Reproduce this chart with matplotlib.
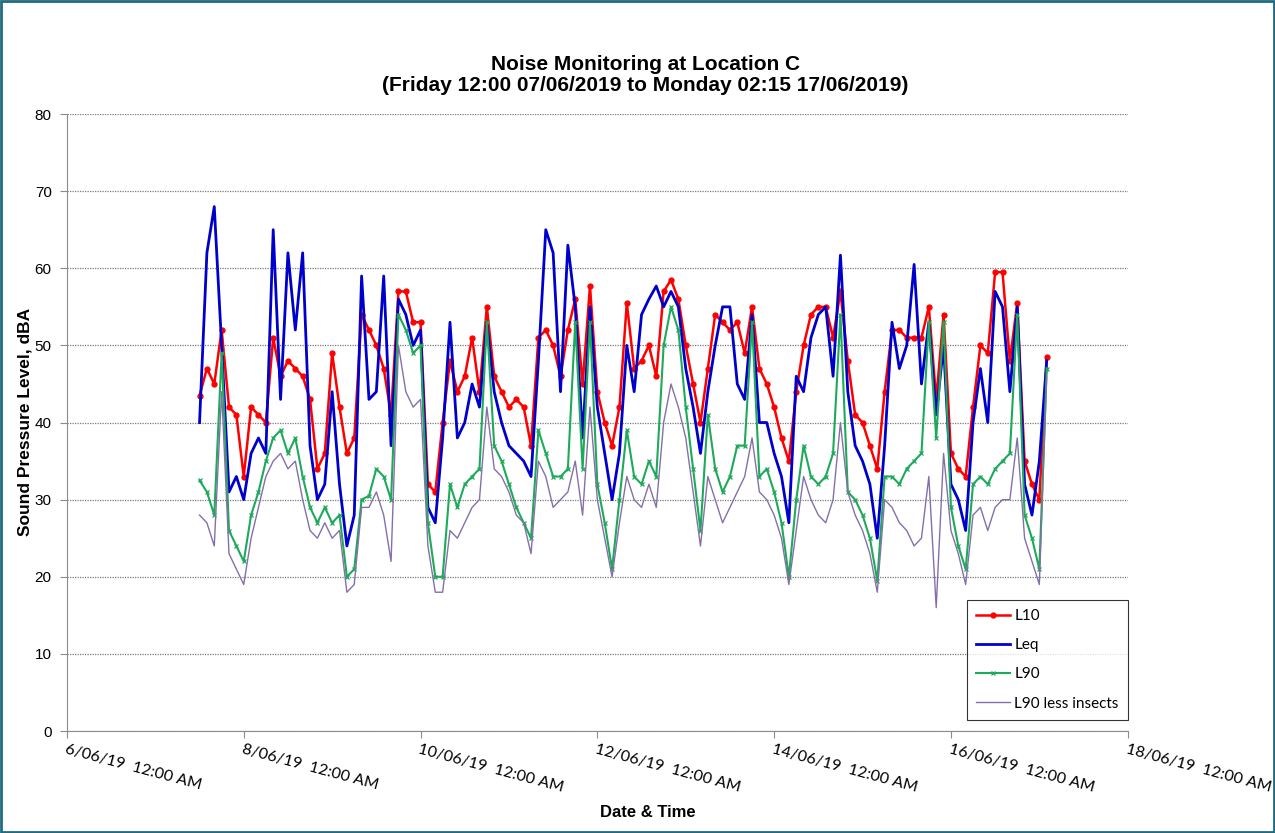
import numpy as np
import pandas as pd
import matplotlib
matplotlib.use("Agg")
import matplotlib.pyplot as plt
import matplotlib.dates as mdates
from matplotlib.patches import Rectangle
from matplotlib.ticker import FuncFormatter

# 2-hourly readings, Friday 12:00 07/06/2019 onwards
times = pd.date_range("2019-06-07 12:00", periods=116, freq="2h")

l10 = [43.5, 47, 45, 52, 42, 41, 33, 42, 41, 40, 51, 46, 48, 47, 46, 43, 34, 36, 49, 42,
       36, 38, 54, 52, 50, 47, 41, 57, 57, 53, 53, 32, 31, 40, 48, 44, 46, 51, 44, 55,
       46, 44, 42, 43, 42, 37, 51, 52, 50, 46, 52, 56, 45, 57.7, 44, 40, 37, 42, 55.5, 47,
       48, 50, 46, 57, 58.5, 56, 50, 45, 40, 47, 54, 53, 52, 53, 49, 55, 47, 45, 42, 38,
       35, 44, 50, 54, 55, 55, 51, 57, 48, 41, 40, 37, 34, 44, 52, 52, 51, 51, 51, 55,
       43, 54, 36, 34, 33, 42, 50, 49, 59.5, 59.5, 48, 55.5, 35, 32, 30, 48.5]

leq = [40, 62, 68, 50, 31, 33, 30, 36, 38, 36, 65, 43, 62, 52, 62, 37, 30, 32, 44, 32,
       24, 28, 59, 43, 44, 59, 37, 56, 54, 50, 52, 29, 27, 38, 53, 38, 40, 45, 42, 53,
       44, 40, 37, 36, 35, 33, 48, 65, 62, 44, 63, 55, 38, 55, 42, 36, 30, 36, 50, 44,
       54, 56, 57.7, 55, 57, 55, 47, 42, 36, 44, 50, 55, 55, 45, 43, 54, 40, 40, 36, 33,
       27, 46, 44, 51, 54, 55, 46, 61.7, 44, 37, 35, 32, 25, 37, 53, 47, 50, 60.5, 45, 53,
       41, 50, 32, 30, 26, 40, 47, 40, 57, 55, 44, 55, 32, 28, 35, 48]

l90 = [32.5, 31, 28, 49, 26, 24, 22, 28, 31, 35, 38, 39, 36, 38, 33, 29, 27, 29, 27, 28,
       20, 21, 30, 30.5, 34, 33, 30, 54, 52, 49, 50, 27, 20, 20, 32, 29, 32, 33, 34, 53,
       37, 35, 32, 29, 27, 25, 39, 36, 33, 33, 34, 53, 34, 53, 32, 27, 21, 30, 39, 33,
       32, 35, 33, 50, 55, 52, 42, 34, 26, 41, 34, 31, 33, 37, 37, 53, 33, 34, 31, 27,
       20, 30, 37, 33, 32, 33, 36, 54, 31, 30, 28, 25, 19.5, 33, 33, 32, 34, 35, 36, 53,
       38, 53, 29, 24, 21, 32, 33, 32, 34, 35, 36, 54, 28, 25, 21, 47]

l90_less = [28, 27, 24, 44, 23, 21, 19, 25, 29, 33, 35, 36, 34, 35, 30, 26, 25, 27, 25, 26,
            18, 19, 29, 29, 31, 28, 22, 50, 44, 42, 43, 24, 18, 18, 26, 25, 27, 29, 30, 42,
            34, 33, 31, 28, 27, 23, 35, 33, 29, 30, 31, 35, 28, 42, 30, 25, 20, 27, 33, 30,
            29, 32, 29, 40, 45, 42, 38, 31, 24, 33, 30, 27, 29, 31, 33, 38, 31, 30, 28, 25,
            19, 26, 33, 30, 28, 27, 30, 40, 31, 28, 26, 23, 18, 30, 29, 27, 26, 24, 25, 33,
            16, 36, 26, 23, 19, 28, 29, 26, 29, 30, 30, 38, 25, 22, 19, 46]

fig = plt.figure(figsize=(12.75, 8.33), dpi=100)
ax = fig.add_axes([0.0525, 0.1224, 0.832, 0.7407])

ax.plot(times, l10, color="#FF0000", lw=1.8, marker="o", ms=3.5, label="L10")
ax.plot(times, leq, color="#0000CC", lw=2.0, label="Leq")
ax.plot(times, l90, color="#1DAA5A", lw=1.5, marker="x", ms=3.5, mew=0.9, label="L90")
ax.plot(times, l90_less, color="#8470A8", lw=1.0, label="L90 less insects")

ax.set_ylim(0, 80)
ax.set_yticks(range(0, 81, 10))
ax.set_xlim(pd.Timestamp("2019-06-06"), pd.Timestamp("2019-06-18"))
ax.xaxis.set_major_locator(mdates.DayLocator(bymonthday=range(6, 19, 2)))
ax.xaxis.set_major_formatter(FuncFormatter(
    lambda v, p: "%d/%02d/19  12:00 AM" % (mdates.num2date(v).day, mdates.num2date(v).month)))

for lbl in ax.get_xticklabels():
    lbl.set_rotation(-15)
    lbl.set_rotation_mode("anchor")
    lbl.set_ha("left")
    lbl.set_va("top")
    lbl.set_family("Lato")
    lbl.set_fontsize(11.5)
for lbl in ax.get_yticklabels():
    lbl.set_family("Liberation Sans")
    lbl.set_fontsize(11)

ax.yaxis.grid(True, linestyle=(0, (1, 1)), color="#7a7a7a", lw=0.9)
ax.set_axisbelow(True)
for s in ("top", "right"):
    ax.spines[s].set_visible(False)
for s in ("left", "bottom"):
    ax.spines[s].set_color("#8c8c8c")
ax.tick_params(axis="both", direction="out", color="#8c8c8c", length=5)
ax.tick_params(axis="y", pad=6)

fig.text(0.0196, 0.493, "Sound Pressure Level, dBA", rotation=90, ha="center", va="center",
         fontsize=12.5, fontweight="bold", family="Liberation Sans")
fig.text(0.508, 0.025, "Date & Time", ha="center", va="center",
         fontsize=12, fontweight="bold", family="Liberation Sans")

fig.text(0.506, 0.91, "Noise Monitoring at Location C\n(Friday 12:00 07/06/2019 to Monday 02:15 17/06/2019)",
         ha="center", va="center", fontsize=15, fontweight="bold", family="Liberation Sans",
         linespacing=1.15)

leg = ax.legend(loc="lower right", bbox_to_anchor=(1.0, 0.018), borderaxespad=0,
                frameon=True, fancybox=False, edgecolor="black",
                prop={"family": "Lato", "size": 11}, handlelength=2.2,
                handletextpad=0.3, labelspacing=1.0, borderpad=0.6, numpoints=1)
leg.get_frame().set_linewidth(0.8)

fig.patches.append(Rectangle((0.001, 0.001), 0.998, 0.998, transform=fig.transFigure,
                             fill=False, edgecolor="#1F6B80", lw=2))

plt.savefig("out.png", dpi=100)
